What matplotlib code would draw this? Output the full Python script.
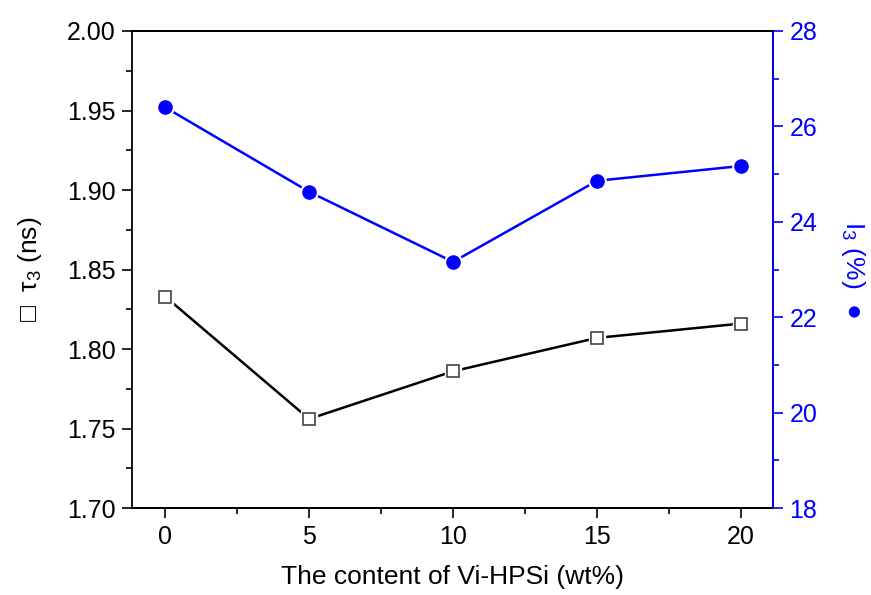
import matplotlib
matplotlib.use("Agg")
import matplotlib.pyplot as plt
from matplotlib.ticker import MultipleLocator, FormatStrFormatter

plt.rcParams['font.family'] = ['Liberation Sans', 'DejaVu Sans']
plt.rcParams['mathtext.fontset'] = 'custom'
plt.rcParams['mathtext.rm'] = 'Liberation Sans'
plt.rcParams['mathtext.it'] = 'Liberation Sans'

content = [0, 5, 10, 15, 20]
tau3 = [1.833, 1.756, 1.786, 1.807, 1.816]
I3 = [26.40, 24.63, 23.16, 24.86, 25.17]

blue = '#0000ff'
fig = plt.figure(figsize=(8.71, 5.95), dpi=100)
ax = fig.add_axes([0.1516, 0.1462, 0.7355, 0.8017])
ax2 = ax.twinx()

# lines
ax.plot(content, tau3, color='black', lw=1.8, zorder=2)
ax2.plot(content, I3, color=blue, lw=1.8, zorder=2)
# white halos (gap between line and marker)
ax.plot(content, tau3, ls='none', marker='s', ms=11, mfc='white', mec='white', zorder=3)
ax2.plot(content, I3, ls='none', marker='o', ms=12.5, mfc='white', mec='white', zorder=3)
# markers
ax.plot(content, tau3, ls='none', marker='s', ms=8,
        mfc='white', mec='#444444', mew=1.2, zorder=4)
ax2.plot(content, I3, ls='none', marker='o', ms=9.5,
         mfc=blue, mec=blue, zorder=4)

ax.set_xlim(-1.15, 21.1)
ax.set_ylim(1.70, 2.00)
ax2.set_ylim(18, 28)

ax.xaxis.set_major_locator(MultipleLocator(5))
ax.xaxis.set_minor_locator(MultipleLocator(2.5))
ax.yaxis.set_major_locator(MultipleLocator(0.05))
ax.yaxis.set_minor_locator(MultipleLocator(0.025))
ax.yaxis.set_major_formatter(FormatStrFormatter('%.2f'))
ax2.yaxis.set_major_locator(MultipleLocator(2))
ax2.yaxis.set_minor_locator(MultipleLocator(1))

for a in (ax, ax2):
    for s in a.spines.values():
        s.set_linewidth(1.3)
ax2.spines['right'].set_color(blue)
ax2.spines['left'].set_visible(False)

ax.tick_params(axis='both', which='major', direction='out', length=7, width=1.2,
               labelsize=18, pad=5)
ax.tick_params(axis='both', which='minor', direction='out', length=4, width=1.2)
ax.tick_params(axis='x', which='both', top=False)
ax2.tick_params(axis='y', which='major', direction='out', length=7, width=1.2,
                labelsize=18, pad=5, colors=blue)
ax2.tick_params(axis='y', which='minor', direction='out', length=4, width=1.2,
                colors=blue)

ax.set_xlabel('The content of Vi-HPSi (wt%)', fontsize=19, labelpad=12)
ax.set_ylabel('□  τ$_{3}$ (ns)', fontsize=19, labelpad=16)
ax2.set_ylabel('I$_{3}$ (%)  ●', fontsize=19, color=blue, rotation=270,
               labelpad=36)

fig.savefig('out.png', dpi=100)
